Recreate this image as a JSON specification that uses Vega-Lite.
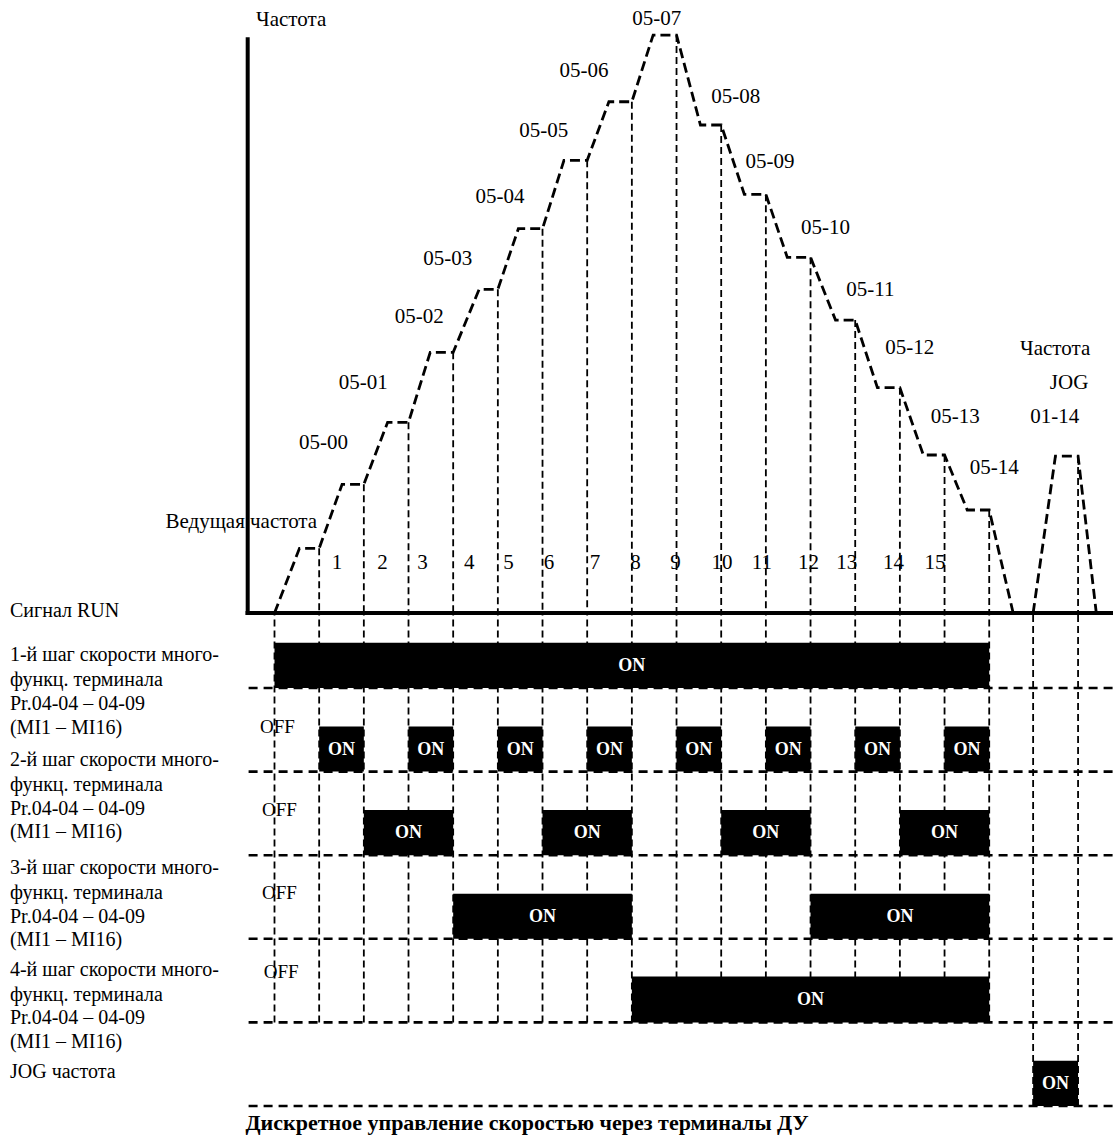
{
  "$schema": "https://vega.github.io/schema/vega-lite/v6.json",
  "width": 1115,
  "height": 1135,
  "autosize": {"type": "fit", "contains": "padding"},
  "padding": 0,
  "background": "white",
  "config": {"view": {"stroke": null}, "text": {"font": "Liberation Serif", "color": "black"}},
  "datasets": {
    "curve": [
      {"s": "main", "t": 0, "f": 0}, {"s": "main", "t": 0.559, "f": 11.19}, {"s": "main", "t": 1, "f": 11.19},
      {"s": "main", "t": 1.513, "f": 22.27}, {"s": "main", "t": 2, "f": 22.27},
      {"s": "main", "t": 2.532, "f": 32.99}, {"s": "main", "t": 3, "f": 32.99},
      {"s": "main", "t": 3.486, "f": 45.10}, {"s": "main", "t": 4, "f": 45.10},
      {"s": "main", "t": 4.581, "f": 56.00}, {"s": "main", "t": 5, "f": 56.00},
      {"s": "main", "t": 5.459, "f": 66.49}, {"s": "main", "t": 6, "f": 66.49},
      {"s": "main", "t": 6.480, "f": 78.32}, {"s": "main", "t": 7, "f": 78.32},
      {"s": "main", "t": 7.486, "f": 88.46}, {"s": "main", "t": 8, "f": 88.46},
      {"s": "main", "t": 8.476, "f": 100}, {"s": "main", "t": 9, "f": 100},
      {"s": "main", "t": 9.535, "f": 84.43}, {"s": "main", "t": 10, "f": 84.43},
      {"s": "main", "t": 10.518, "f": 72.44}, {"s": "main", "t": 11, "f": 72.44},
      {"s": "main", "t": 11.479, "f": 61.54}, {"s": "main", "t": 12, "f": 61.54},
      {"s": "main", "t": 12.559, "f": 50.69}, {"s": "main", "t": 13, "f": 50.69},
      {"s": "main", "t": 13.497, "f": 38.98}, {"s": "main", "t": 14, "f": 38.98},
      {"s": "main", "t": 14.525, "f": 27.34}, {"s": "main", "t": 15, "f": 27.34},
      {"s": "main", "t": 15.508, "f": 17.82}, {"s": "main", "t": 16, "f": 17.82},
      {"s": "main", "t": 16.536, "f": 0},
      {"s": "jog", "t": 16.983, "f": 0}, {"s": "jog", "t": 17.482, "f": 27.16},
      {"s": "jog", "t": 17.989, "f": 27.16}, {"s": "jog", "t": 18.397, "f": 0}
    ],
    "axes": [
      {"t": -0.6, "t2": -0.6, "f": 99.6, "f2": -0.35},
      {"t": -0.648, "t2": 18.771, "f": 0, "f2": 0}
    ],
    "vfreq": [
      {"t": 1, "f": 11.19}, {"t": 2, "f": 22.27}, {"t": 3, "f": 32.99}, {"t": 4, "f": 45.10},
      {"t": 5, "f": 56.00}, {"t": 6, "f": 66.49}, {"t": 7, "f": 78.32}, {"t": 8, "f": 88.46},
      {"t": 9, "f": 100}, {"t": 10, "f": 84.43}, {"t": 11, "f": 72.44}, {"t": 12, "f": 61.54},
      {"t": 13, "f": 50.69}, {"t": 14, "f": 38.98}, {"t": 15, "f": 27.34}, {"t": 16, "f": 17.82},
      {"t": 17.989, "f": 27.16}
    ],
    "vtime": [
      {"t": 0, "L": 1}, {"t": 1, "L": 1}, {"t": 2, "L": 1}, {"t": 3, "L": 1}, {"t": 4, "L": 1},
      {"t": 5, "L": 1}, {"t": 6, "L": 1}, {"t": 7, "L": 1}, {"t": 8, "L": 1}, {"t": 9, "L": 1},
      {"t": 10, "L": 1}, {"t": 11, "L": 1}, {"t": 12, "L": 1}, {"t": 13, "L": 1}, {"t": 14, "L": 1},
      {"t": 15, "L": 1}, {"t": 16, "L": 1}, {"t": 16.983, "L": 0}, {"t": 17.989, "L": 0}
    ],
    "lanes": [{"L": 0}, {"L": 1}, {"L": 2}, {"L": 3}, {"L": 4}, {"L": 5}],
    "bars": [
      {"L": 5, "top": 5.54, "t0": 0, "t1": 16, "tm": 8},
      {"L": 4, "top": 4.54, "t0": 1, "t1": 2, "tm": 1.5},
      {"L": 4, "top": 4.54, "t0": 3, "t1": 4, "tm": 3.5},
      {"L": 4, "top": 4.54, "t0": 5, "t1": 6, "tm": 5.5},
      {"L": 4, "top": 4.54, "t0": 7, "t1": 8, "tm": 7.5},
      {"L": 4, "top": 4.54, "t0": 9, "t1": 10, "tm": 9.5},
      {"L": 4, "top": 4.54, "t0": 11, "t1": 12, "tm": 11.5},
      {"L": 4, "top": 4.54, "t0": 13, "t1": 14, "tm": 13.5},
      {"L": 4, "top": 4.54, "t0": 15, "t1": 16, "tm": 15.5},
      {"L": 3, "top": 3.54, "t0": 2, "t1": 4, "tm": 3},
      {"L": 3, "top": 3.54, "t0": 6, "t1": 8, "tm": 7},
      {"L": 3, "top": 3.54, "t0": 10, "t1": 12, "tm": 11},
      {"L": 3, "top": 3.54, "t0": 14, "t1": 16, "tm": 15},
      {"L": 2, "top": 2.54, "t0": 4, "t1": 8, "tm": 6},
      {"L": 2, "top": 2.54, "t0": 12, "t1": 16, "tm": 14},
      {"L": 1, "top": 1.55, "t0": 8, "t1": 16, "tm": 12},
      {"L": 0, "top": 0.54, "t0": 16.983, "t1": 17.989, "tm": 17.486}
    ],
    "flabels": [
      {"t": 0.373, "f": 102.6, "label": "Частота"},
      {"t": 8.559, "f": 102.7, "label": "05-07"},
      {"t": 6.927, "f": 93.77, "label": "05-06"},
      {"t": 6.027, "f": 83.44, "label": "05-05"},
      {"t": 5.050, "f": 72.03, "label": "05-04"},
      {"t": 3.877, "f": 61.19, "label": "05-03"},
      {"t": 3.240, "f": 51.16, "label": "05-02"},
      {"t": 1.989, "f": 39.74, "label": "05-01"},
      {"t": 1.095, "f": 29.36, "label": "05-00"},
      {"t": -0.744, "f": 15.80, "label": "Ведущая частота"},
      {"t": 10.324, "f": 89.33, "label": "05-08"},
      {"t": 11.095, "f": 77.98, "label": "05-09"},
      {"t": 12.335, "f": 66.66, "label": "05-10"},
      {"t": 13.341, "f": 55.88, "label": "05-11"},
      {"t": 14.223, "f": 45.80, "label": "05-12"},
      {"t": 15.240, "f": 33.97, "label": "05-13"},
      {"t": 16.112, "f": 25.03, "label": "05-14"},
      {"t": 17.475, "f": 45.62, "label": "Частота"},
      {"t": 17.788, "f": 39.84, "label": "JOG"},
      {"t": 17.468, "f": 33.97, "label": "01-14"},
      {"t": 1.401, "f": 8.65, "label": "1"},
      {"t": 2.420, "f": 8.65, "label": "2"},
      {"t": 3.314, "f": 8.65, "label": "3"},
      {"t": 4.358, "f": 8.65, "label": "4"},
      {"t": 5.236, "f": 8.65, "label": "5"},
      {"t": 6.145, "f": 8.65, "label": "6"},
      {"t": 7.173, "f": 8.65, "label": "7"},
      {"t": 8.083, "f": 8.65, "label": "8"},
      {"t": 8.977, "f": 8.65, "label": "9"},
      {"t": 10.018, "f": 8.65, "label": "10"},
      {"t": 10.912, "f": 8.65, "label": "11"},
      {"t": 11.955, "f": 8.65, "label": "12"},
      {"t": 12.811, "f": 8.65, "label": "13"},
      {"t": 13.855, "f": 8.65, "label": "14"},
      {"t": 14.787, "f": 8.65, "label": "15"}
    ],
    "leftLabels": [
      {"t": -5.922, "L": 5.92, "label": "Сигнал RUN"},
      {"t": -5.922, "L": 5.395, "label": "1-й шаг скорости много-"},
      {"t": -5.922, "L": 5.096, "label": "функц. терминала"},
      {"t": -5.922, "L": 4.809, "label": "Pr.04-04 – 04-09"},
      {"t": -5.922, "L": 4.522, "label": "(MI1 – MI16)"},
      {"t": -5.922, "L": 4.139, "label": "2-й шаг скорости много-"},
      {"t": -5.922, "L": 3.840, "label": "функц. терминала"},
      {"t": -5.922, "L": 3.553, "label": "Pr.04-04 – 04-09"},
      {"t": -5.922, "L": 3.278, "label": "(MI1 – MI16)"},
      {"t": -5.922, "L": 2.847, "label": "3-й шаг скорости много-"},
      {"t": -5.922, "L": 2.548, "label": "функц. терминала"},
      {"t": -5.922, "L": 2.261, "label": "Pr.04-04 – 04-09"},
      {"t": -5.922, "L": 1.986, "label": "(MI1 – MI16)"},
      {"t": -5.922, "L": 1.627, "label": "4-й шаг скорости много-"},
      {"t": -5.922, "L": 1.328, "label": "функц. терминала"},
      {"t": -5.922, "L": 1.053, "label": "Pr.04-04 – 04-09"},
      {"t": -5.922, "L": 0.766, "label": "(MI1 – MI16)"},
      {"t": -5.922, "L": 0.407, "label": "JOG частота"}
    ],
    "offLabels": [
      {"t": 0.067, "L": 4.537, "label": "OFF"},
      {"t": 0.112, "L": 3.541, "label": "OFF"},
      {"t": 0.112, "L": 2.544, "label": "OFF"},
      {"t": 0.15, "L": 1.606, "label": "OFF"}
    ],
    "title": [
      {"t": 5.654, "L": -0.203, "label": "Дискретное управление скоростью через терминалы ДУ"}
    ]
  },
  "layer": [
    {
      "layer": [
        {
          "data": {"name": "vfreq"},
          "mark": {"type": "rule", "color": "black", "strokeWidth": 1.8, "strokeDash": [7, 4]},
          "encoding": {
            "x": {"field": "t", "type": "quantitative", "scale": {"domain": [-6.145, 18.771], "nice": false, "zero": false}, "axis": null},
            "y": {"field": "f", "type": "quantitative", "scale": {"domain": [-90.31, 106.06], "nice": false, "zero": false}, "axis": null},
            "y2": {"datum": 0}
          }
        },
        {
          "data": {"name": "axes"},
          "mark": {"type": "rule", "color": "black", "strokeWidth": 4},
          "encoding": {
            "x": {"field": "t", "type": "quantitative", "scale": {"domain": [-6.145, 18.771], "nice": false, "zero": false}, "axis": null},
            "x2": {"field": "t2"},
            "y": {"field": "f", "type": "quantitative", "scale": {"domain": [-90.31, 106.06], "nice": false, "zero": false}, "axis": null},
            "y2": {"field": "f2"}
          }
        },
        {
          "data": {"name": "curve"},
          "mark": {"type": "line", "color": "black", "strokeWidth": 2.8, "strokeDash": [10, 5]},
          "encoding": {
            "x": {"field": "t", "type": "quantitative", "scale": {"domain": [-6.145, 18.771], "nice": false, "zero": false}, "axis": null},
            "y": {"field": "f", "type": "quantitative", "scale": {"domain": [-90.31, 106.06], "nice": false, "zero": false}, "axis": null},
            "detail": {"field": "s", "type": "nominal"}
          }
        },
        {
          "data": {"name": "flabels"},
          "mark": {"type": "text", "font": "Liberation Serif", "fontSize": 21, "align": "center", "baseline": "middle"},
          "encoding": {
            "x": {"field": "t", "type": "quantitative", "scale": {"domain": [-6.145, 18.771], "nice": false, "zero": false}, "axis": null},
            "y": {"field": "f", "type": "quantitative", "scale": {"domain": [-90.31, 106.06], "nice": false, "zero": false}, "axis": null},
            "text": {"field": "label", "type": "nominal"}
          }
        }
      ]
    },
    {
      "layer": [
        {
          "data": {"name": "vtime"},
          "mark": {"type": "rule", "color": "black", "strokeWidth": 1.8, "strokeDash": [7, 4]},
          "encoding": {
            "x": {"field": "t", "type": "quantitative", "scale": {"domain": [-6.145, 18.771], "nice": false, "zero": false}, "axis": null},
            "y": {"field": "L", "type": "quantitative", "scale": {"domain": [-0.347, 13.23], "nice": false, "zero": false}, "axis": null},
            "y2": {"datum": 5.897}
          }
        },
        {
          "data": {"name": "lanes"},
          "mark": {"type": "rule", "color": "black", "strokeWidth": 2.6, "strokeDash": [9, 6]},
          "encoding": {
            "x": {"datum": -0.58, "type": "quantitative", "scale": {"domain": [-6.145, 18.771], "nice": false, "zero": false}, "axis": null},
            "x2": {"datum": 18.771},
            "y": {"field": "L", "type": "quantitative", "scale": {"domain": [-0.347, 13.23], "nice": false, "zero": false}, "axis": null}
          }
        },
        {
          "data": {"name": "bars"},
          "mark": {"type": "rect", "color": "black"},
          "encoding": {
            "x": {"field": "t0", "type": "quantitative", "scale": {"domain": [-6.145, 18.771], "nice": false, "zero": false}, "axis": null},
            "x2": {"field": "t1"},
            "y": {"field": "L", "type": "quantitative", "scale": {"domain": [-0.347, 13.23], "nice": false, "zero": false}, "axis": null},
            "y2": {"field": "top"}
          }
        },
        {
          "data": {"name": "bars"},
          "mark": {"type": "text", "font": "Liberation Serif", "fontSize": 18, "fontWeight": "bold", "color": "white", "align": "center", "baseline": "middle", "dy": -22},
          "encoding": {
            "x": {"field": "tm", "type": "quantitative", "scale": {"domain": [-6.145, 18.771], "nice": false, "zero": false}, "axis": null},
            "y": {"field": "L", "type": "quantitative", "scale": {"domain": [-0.347, 13.23], "nice": false, "zero": false}, "axis": null},
            "text": {"value": "ON"}
          }
        },
        {
          "data": {"name": "leftLabels"},
          "mark": {"type": "text", "font": "Liberation Serif", "fontSize": 20, "align": "left", "baseline": "middle"},
          "encoding": {
            "x": {"field": "t", "type": "quantitative", "scale": {"domain": [-6.145, 18.771], "nice": false, "zero": false}, "axis": null},
            "y": {"field": "L", "type": "quantitative", "scale": {"domain": [-0.347, 13.23], "nice": false, "zero": false}, "axis": null},
            "text": {"field": "label", "type": "nominal"}
          }
        },
        {
          "data": {"name": "offLabels"},
          "mark": {"type": "text", "font": "Liberation Serif", "fontSize": 19, "align": "center", "baseline": "middle"},
          "encoding": {
            "x": {"field": "t", "type": "quantitative", "scale": {"domain": [-6.145, 18.771], "nice": false, "zero": false}, "axis": null},
            "y": {"field": "L", "type": "quantitative", "scale": {"domain": [-0.347, 13.23], "nice": false, "zero": false}, "axis": null},
            "text": {"field": "label", "type": "nominal"}
          }
        },
        {
          "data": {"name": "title"},
          "mark": {"type": "text", "font": "Liberation Serif", "fontSize": 22, "fontWeight": "bold", "align": "center", "baseline": "middle"},
          "encoding": {
            "x": {"field": "t", "type": "quantitative", "scale": {"domain": [-6.145, 18.771], "nice": false, "zero": false}, "axis": null},
            "y": {"field": "L", "type": "quantitative", "scale": {"domain": [-0.347, 13.23], "nice": false, "zero": false}, "axis": null},
            "text": {"field": "label", "type": "nominal"}
          }
        }
      ]
    }
  ],
  "resolve": {"scale": {"y": "independent"}}
}
